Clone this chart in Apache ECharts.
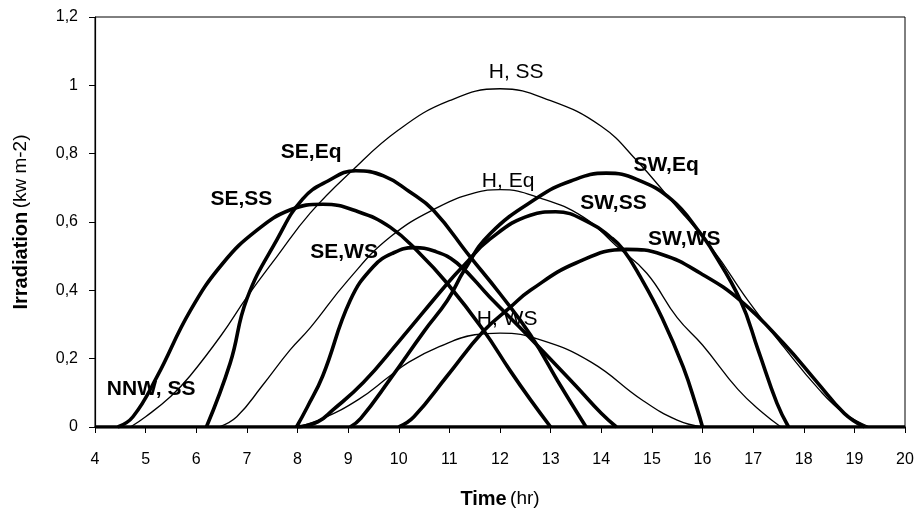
<!DOCTYPE html>
<html>
<head>
<meta charset="utf-8">
<script src="https://cdn.jsdelivr.net/npm/echarts@6/dist/echarts.min.js"></script>
<style>
html,body{margin:0;padding:0;background:#fff;}
#chart{width:921px;height:514px;}
</style>
</head>
<body>
<div id="chart"></div>
<script>
// ---- data (hour, irradiation kW m-2) ----
var H_SS = [[4.7,0],[5.0,0.03],[5.5,0.09],[5.88,0.15],[6.5,0.27],[7.0,0.38],[7.6,0.5],[8.25,0.626],[9.04,0.745],[10,0.87],[11,0.955],[12,0.99],[13,0.955],[14,0.88],[14.7,0.78],[15.4,0.66],[16.2,0.52],[16.9,0.37],[17.6,0.235],[18.3,0.11],[18.8,0.04],[19.3,0]];
var H_Eq = [[6.45,0],[6.8,0.03],[7.3,0.12],[7.85,0.225],[8.25,0.29],[9.0,0.43],[9.83,0.556],[10.8,0.645],[11.5,0.685],[12,0.695],[12.8,0.67],[13.64,0.615],[14.3,0.53],[14.9,0.45],[15.5,0.32],[16.0,0.24],[16.7,0.11],[17.2,0.04],[17.55,0]];
var H_WS = [[8.0,0],[8.5,0.025],[9.2,0.08],[9.83,0.15],[10.2,0.19],[10.8,0.235],[11.5,0.27],[12,0.275],[12.8,0.255],[13.8,0.19],[14.8,0.08],[15.5,0.02],[16.0,0]];
var SE_SS = [[4.45,0],[4.75,0.03],[5.22,0.146],[5.88,0.34],[6.53,0.48],[7.2,0.576],[7.85,0.635],[8.5,0.652],[9.2,0.63],[9.83,0.585],[10.4,0.51],[10.96,0.42],[11.67,0.284],[12.2,0.165],[12.6,0.08],[13.0,0]];
var SE_Eq = [[6.2,0],[6.67,0.187],[7.0,0.375],[7.6,0.55],[8.1,0.667],[8.6,0.72],[9.15,0.75],[9.7,0.735],[10.2,0.69],[10.68,0.635],[11.4,0.5],[12.0,0.39],[12.6,0.27],[13.2,0.12],[13.7,0]];
var SE_WS = [[7.98,0],[8.2,0.06],[8.5,0.15],[9.04,0.37],[9.5,0.47],[9.9,0.51],[10.3,0.525],[10.7,0.515],[11.15,0.48],[11.8,0.38],[12.6,0.26],[13.5,0.12],[14.0,0.04],[14.3,0]];
var SW_SS = [[8.0,0],[8.4,0.015],[8.7,0.05],[9.3,0.13],[10.0,0.25],[10.96,0.42],[11.3,0.475],[11.8,0.55],[12.6,0.62],[13.1,0.63],[13.78,0.597],[14.18,0.556],[14.43,0.52],[14.77,0.44],[15.2,0.32],[15.62,0.175],[15.9,0.05],[16.0,0]];
var SW_Eq = [[9.04,0],[9.25,0.025],[9.83,0.14],[10.5,0.28],[10.96,0.37],[11.3,0.46],[11.8,0.565],[12.73,0.67],[13.4,0.72],[14.1,0.743],[14.7,0.725],[15.4,0.664],[15.96,0.567],[16.15,0.527],[16.75,0.37],[17.1,0.225],[17.47,0.07],[17.7,0]];
var SW_WS = [[10.0,0],[10.3,0.03],[10.96,0.15],[11.67,0.28],[12.2,0.35],[12.6,0.4],[13.5,0.48],[14.5,0.52],[15.2,0.505],[15.96,0.45],[16.75,0.37],[17.6,0.245],[18.27,0.13],[18.8,0.04],[19.2,0]];
var NNW_SS = [[4,0],[20,0]];

var seriesNames = ['H, SS','H, Eq','H, WS','SE,SS','SE,Eq','SE,WS','SW,SS','SW,Eq','SW,WS','NNW, SS'];
var seriesData  = [H_SS, H_Eq, H_WS, SE_SS, SE_Eq, SE_WS, SW_SS, SW_Eq, SW_WS, NNW_SS];
var thinSeries  = ['H, SS','H, Eq','H, WS'];

// label anchor points (in data coordinates) for the curve annotations
var labelAnchors = [
  ['H, SS', 12.32, 1.039, false],
  ['H, Eq', 12.16, 0.72, false],
  ['H, WS', 12.14, 0.316, false],
  ['SE,Eq', 8.27, 0.805, true],
  ['SE,SS', 6.89, 0.667, true],
  ['SE,WS', 8.92, 0.512, true],
  ['NNW, SS', 5.11, 0.111, true],
  ['SW,Eq', 15.28, 0.767, true],
  ['SW,SS', 14.24, 0.656, true],
  ['SW,WS', 15.64, 0.55, true]
];

var chart = echarts.init(document.getElementById('chart'), null, {renderer:'canvas'});
var FONT = '"Liberation Sans", Arial, sans-serif';

var series = seriesNames.map(function(n, i){
  var thin = thinSeries.indexOf(n) >= 0;
  return {
    name: n, type: 'line', data: seriesData[i],
    smooth: 0.45, showSymbol: false, symbol: 'none',
    clip: true, silent: true,
    lineStyle: {color: '#000', width: thin ? 1.3 : 3.6},
    z: thin ? 3 : 2
  };
});

chart.setOption({
  animation: false,
  backgroundColor: '#fff',
  grid: {left: 95, right: 16, top: 17, bottom: 87, show: true, borderColor: '#000', borderWidth: 1, backgroundColor: 'transparent'},
  xAxis: {
    type: 'value', min: 4, max: 20, interval: 1,
    name: '{b|Time} {n|(hr)}', nameLocation: 'middle', nameGap: 62,
    nameTextStyle: {rich: {b: {fontFamily: FONT, fontWeight: 'bold', fontSize: 20, color: '#000'}, n: {fontFamily: FONT, fontSize: 19, color: '#000'}}},
    axisLine: {lineStyle: {color: '#000', width: 1.5}},
    axisTick: {inside: false, length: 6, lineStyle: {color: '#000'}},
    axisLabel: {fontFamily: FONT, fontSize: 16, color: '#000', margin: 25},
    splitLine: {show: false}
  },
  yAxis: {
    type: 'value', min: 0, max: 1.2, interval: 0.2,
    name: '{b|Irradiation} {n|(kw m-2)}', nameLocation: 'middle', nameGap: 64, nameRotate: 90,
    nameTextStyle: {rich: {b: {fontFamily: FONT, fontWeight: 'bold', fontSize: 20, color: '#000'}, n: {fontFamily: FONT, fontSize: 19, color: '#000'}}},
    axisLine: {show: true, lineStyle: {color: '#000', width: 1.2}},
    axisTick: {show: true, inside: false, length: 6, lineStyle: {color: '#000'}},
    axisLabel: {fontFamily: FONT, fontSize: 16, color: '#000', margin: 17,
      formatter: function(v){ return String(+v.toFixed(1)).replace('.', ','); }},
    splitLine: {show: false}
  },
  series: series
});

var graphics = labelAnchors.map(function(a){
  var p = chart.convertToPixel({gridIndex: 0}, [a[1], a[2]]);
  return {
    type: 'text', x: p[0], y: p[1], z: 10,
    style: {text: a[0], fill: '#000', font: (a[3] ? 'bold 21px ' : '21px ') + FONT,
            align: 'center', verticalAlign: 'middle'}
  };
});
chart.setOption({graphic: graphics});
</script>
</body>
</html>
